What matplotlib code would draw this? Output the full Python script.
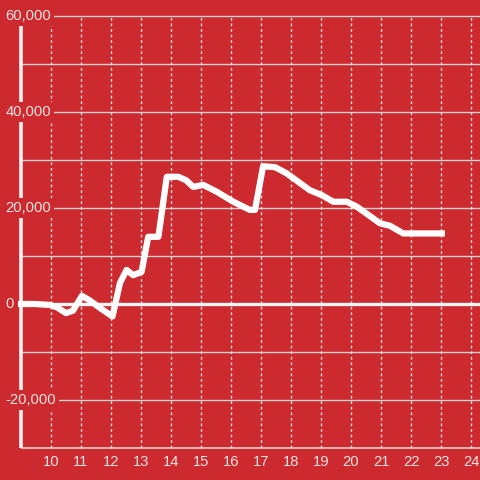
import matplotlib
matplotlib.use('Agg')
import matplotlib.pyplot as plt

# valores
x_vals = [8.9, 9.47, 9.97, 10.2, 10.5, 10.73, 11.03, 11.3, 11.65, 12.05,
          12.3, 12.52, 12.74, 13.02, 13.24, 13.58, 13.86, 14.24, 14.5, 14.74,
          15.08, 15.52, 16.08, 16.63, 16.8, 17.07, 17.47, 17.86, 18.63, 19.02,
          19.41, 19.86, 20.19, 20.97, 21.3, 21.74, 23.13]
y_vals = [0, 0, -200, -700, -1900, -1400, 1700, 700, -900, -2600,
          4400, 7100, 6000, 6700, 14000, 14000, 26500, 26500, 25800, 24400,
          24800, 23400, 21300, 19600, 19600, 28700, 28500, 27200, 23700, 22700,
          21300, 21300, 20300, 16800, 16300, 14700, 14700]

y_ticks = [60000, 40000, 20000, 0, -20000]
y_grid = [60000, 50000, 40000, 30000, 20000, 10000, -10000, -20000]
x_ticks = list(range(10, 25))

fundo = '#cc2a2f'
cor_texto = '#f3e3e3'

fig = plt.figure(figsize=(4.8, 4.8), dpi=100, facecolor=fundo)
ax = fig.add_axes([0, 0, 1, 1])
ax.set_facecolor(fundo)
ax.set_xlim(8.3, 24.3)
ax.set_ylim(-36667, 63333)
ax.axis('off')

x_ini = 9.0
x_fim = 24.3

# grade
ax.hlines(y_grid, x_ini, x_fim, color='#d9d0d0', lw=1, zorder=1)
ax.vlines(x_ticks, -30000, 60000, color='#e6dcdc', lw=1, linestyles=(0, (2, 2)), zorder=1)
ax.hlines(-30000, x_ini, x_fim, color='#d9d0d0', lw=1.2, zorder=2)
ax.hlines(0, x_ini, x_fim, color='#f5f5f5', lw=2.4, zorder=2)
ax.vlines(x_ini, -30000, 58333, color='#f0f0f0', lw=2.6, zorder=2)

# linha de dados
ax.plot(x_vals, y_vals, color='white', lw=4.5, solid_capstyle='butt',
        solid_joinstyle='round', zorder=3)

# rótulos
for v in y_ticks:
    ax.text(8.48, v, f'{v:,}', ha='left', va='center', color=cor_texto,
            fontsize=10.6, family='Liberation Sans', zorder=4,
            bbox=dict(facecolor=fundo, edgecolor='none', boxstyle='square,pad=0.2'))

for t in x_ticks:
    ax.text(t, -32917, str(t), ha='center', va='center', color=cor_texto,
            fontsize=10.6, family='Liberation Sans', zorder=4)

plt.savefig('out.png', dpi=100, facecolor=fundo)
